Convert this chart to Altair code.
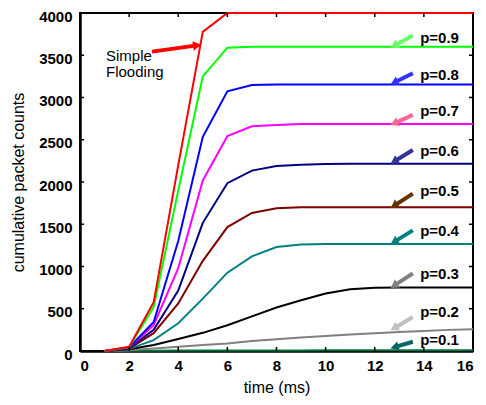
import math
import altair as alt
import pandas as pd

# ---------------- data ----------------
time = list(range(1, 17))
series_names = ["p=0.1", "p=0.2", "p=0.3", "p=0.4", "p=0.5",
                "p=0.6", "p=0.7", "p=0.8", "p=0.9", "Simple Flooding"]
p01 = [0, 2, 4, 5, 6, 6, 7, 7, 7, 8, 8, 8, 8, 8, 8, 8]
p02 = [0, 10, 30, 50, 70, 90, 118, 140, 160, 178, 195, 210, 225, 238, 250, 258]
p03 = [0, 20, 70, 141, 215, 305, 410, 515, 600, 680, 730, 748, 752, 752, 752, 752]
p04 = [0, 25, 129, 328, 620, 927, 1120, 1230, 1260, 1267, 1267, 1267, 1267, 1267, 1267, 1267]
p05 = [0, 30, 211, 563, 1067, 1466, 1634, 1690, 1700, 1700, 1700, 1700, 1700, 1700, 1700, 1700]
p06 = [0, 35, 250, 715, 1517, 1986, 2135, 2190, 2205, 2212, 2217, 2217, 2217, 2217, 2217, 2217]
p07 = [0, 40, 305, 980, 2018, 2545, 2660, 2675, 2686, 2686, 2686, 2686, 2686, 2686, 2686, 2686]
p08 = [0, 42, 344, 1302, 2534, 3073, 3147, 3155, 3155, 3155, 3155, 3155, 3155, 3155, 3155, 3155]
p09 = [0, 45, 520, 1900, 3249, 3590, 3600, 3600, 3600, 3600, 3600, 3600, 3600, 3600, 3600, 3600]
flood = [0, 50, 578, 2200, 3777, 4000, 4000, 4000, 4000, 4000, 4000, 4000, 4000, 4000, 4000, 4000]
all_series = [p01, p02, p03, p04, p05, p06, p07, p08, p09, flood]

line_colors = ["#007040", "#808080", "#000000", "#008080", "#800000",
               "#000080", "#ff00ff", "#0000ff", "#00ff00", "#ff0000"]

# annotation labels / arrows (data coordinates)
label_names = ["p=0.9", "p=0.8", "p=0.7", "p=0.6", "p=0.5",
               "p=0.4", "p=0.3", "p=0.2", "p=0.1"]
label_t = 13.85
label_v = [3699, 3269, 2839, 2370, 1897, 1419, 915, 461, 129]
arrow_tail_t = 13.55
arrow_tail_v = [3734, 3288, 2795, 2378, 1862, 1428, 918, 402, 109]
arrow_tip_t = 12.65
arrow_tip_v = [3590, 3155, 2674, 2217, 1693, 1267, 747, 246, 32]
arrow_colors = ["#66ff66", "#3333ff", "#ff6699", "#333399", "#663300",
                "#008080", "#808080", "#c0c0c0", "#006666"]

flood_text = ["Simple", "Flooding"]
flood_text_t = 1.06
flood_text_v = [3496, 3296]
flood_tail = (2.93, 3543)
flood_tip = (4.97, 3625)

x_ticks = [0, 2, 4, 6, 8, 10, 12, 14, 16]
y_ticks = [0, 500, 1000, 1500, 2000, 2500, 3000, 3500, 4000]

# ---------------- layout ----------------
W, H = 393, 338
FONT = "Liberation Sans"
xs = alt.Scale(domain=[0, 16], nice=False, zero=False)
ys = alt.Scale(domain=[0, 4000], nice=False)

x_axis = alt.Axis(values=x_ticks, format="d", grid=False, ticks=False,
                  labelPadding=7, titlePadding=6,
                  domainWidth=2.5, domainColor="black")
y_axis = alt.Axis(values=y_ticks, format="d", grid=False, ticks=False,
                  labelPadding=8, titlePadding=12, labelOffset=3,
                  domainWidth=2.5, domainColor="black")


def X(field):
    return alt.X(field, type="quantitative", scale=xs, title="time (ms)", axis=x_axis)


def Y(field):
    return alt.Y(field, type="quantitative", scale=ys,
                 title="cumulative packet counts", axis=y_axis)


rows = []
for name, vals in zip(series_names, all_series):
    for t, v in zip(time, vals):
        rows.append({"series": name, "t": t, "v": v})
df = pd.DataFrame(rows)

lines = alt.Chart(df).mark_line(strokeWidth=2, clip=False).encode(
    x=X("t"), y=Y("v"),
    color=alt.Color("series:N", scale=alt.Scale(domain=series_names, range=line_colors),
                    legend=None),
)

# inward ticks on all sides
xt = pd.DataFrame({"t": x_ticks[1:-1]})
yt = pd.DataFrame({"v": y_ticks[1:-1]})
tick_top = alt.Chart(xt).mark_rule(color="black", strokeWidth=1.5).encode(
    x=X("t"), y=alt.value(0), y2=alt.value(4))
tick_bottom = alt.Chart(xt).mark_rule(color="black", strokeWidth=1.5).encode(
    x=X("t"), y=alt.value(H), y2=alt.value(H - 4))
tick_left = alt.Chart(yt).mark_rule(color="black", strokeWidth=1.5).encode(
    y=Y("v"), x=alt.value(0), x2=alt.value(4))
tick_right = alt.Chart(yt).mark_rule(color="black", strokeWidth=1.5).encode(
    y=Y("v"), x=alt.value(W), x2=alt.value(W - 4))


# arrows
def arrow_parts(tail, tip, back=4.0):
    dx = (tip[0] - tail[0]) * W / 16
    dy = -(tip[1] - tail[1]) * H / 4000
    ln = math.hypot(dx, dy)
    ux, uy = dx / ln, dy / ln
    cx = tip[0] - ux * back * 16 / W
    cy = tip[1] + uy * back * 4000 / H
    ang = math.degrees(math.atan2(dx, -dy)) % 360
    return cx, cy, ang


arows = []
for nm, tv, pv, col in zip(label_names, arrow_tail_v, arrow_tip_v, arrow_colors):
    cx, cy, ang = arrow_parts((arrow_tail_t, tv), (arrow_tip_t, pv))
    arows.append({"name": nm, "t1": arrow_tail_t, "v1": tv, "t2": cx, "v2": cy,
                  "ang": ang, "col": col})
fcx, fcy, fang = arrow_parts(flood_tail, flood_tip, back=5)
arows.append({"name": "flood", "t1": flood_tail[0], "v1": flood_tail[1],
              "t2": fcx, "v2": fcy, "ang": fang, "col": "#ff0000"})
adf = pd.DataFrame(arows)

shafts = alt.Chart(adf).mark_rule(strokeWidth=4).encode(
    x=X("t1"), y=Y("v1"), x2="t2:Q", y2="v2:Q",
    color=alt.Color("col:N", scale=None))
heads = alt.Chart(adf).mark_point(shape="triangle-up", filled=True, size=90, opacity=1).encode(
    x=X("t2"), y=Y("v2"),
    angle=alt.Angle("ang:Q", scale=None), color=alt.Color("col:N", scale=None))

ldf = pd.DataFrame({"name": label_names, "t": [label_t] * len(label_names), "v": label_v})
labels = alt.Chart(ldf).mark_text(align="left", baseline="middle", font=FONT,
                                  fontSize=15, fontWeight="bold", color="black").encode(
    x=X("t"), y=Y("v"), text="name:N")

fdf = pd.DataFrame({"txt": flood_text, "t": [flood_text_t] * 2, "v": flood_text_v})
ftext = alt.Chart(fdf).mark_text(align="left", baseline="middle", font=FONT,
                                 fontSize=15, color="black").encode(
    x=X("t"), y=Y("v"), text="txt:N")

chart = alt.layer(lines, tick_top, tick_bottom, tick_left, tick_right,
                  shafts, heads, labels, ftext).properties(
    width=W, height=H,
    background="white",
    autosize=alt.AutoSizeParams(type="none"),
    padding={"left": 72, "top": 5, "right": 5, "bottom": 46},
).configure_view(stroke="black", strokeWidth=2).configure_axis(
    labelFont=FONT, labelFontSize=15, labelFontWeight="bold", labelColor="black",
    titleFont=FONT, titleFontSize=16, titleFontWeight="normal", titleColor="black",
)

chart.save("out.html", embed_options={"renderer": "svg", "actions": False})
